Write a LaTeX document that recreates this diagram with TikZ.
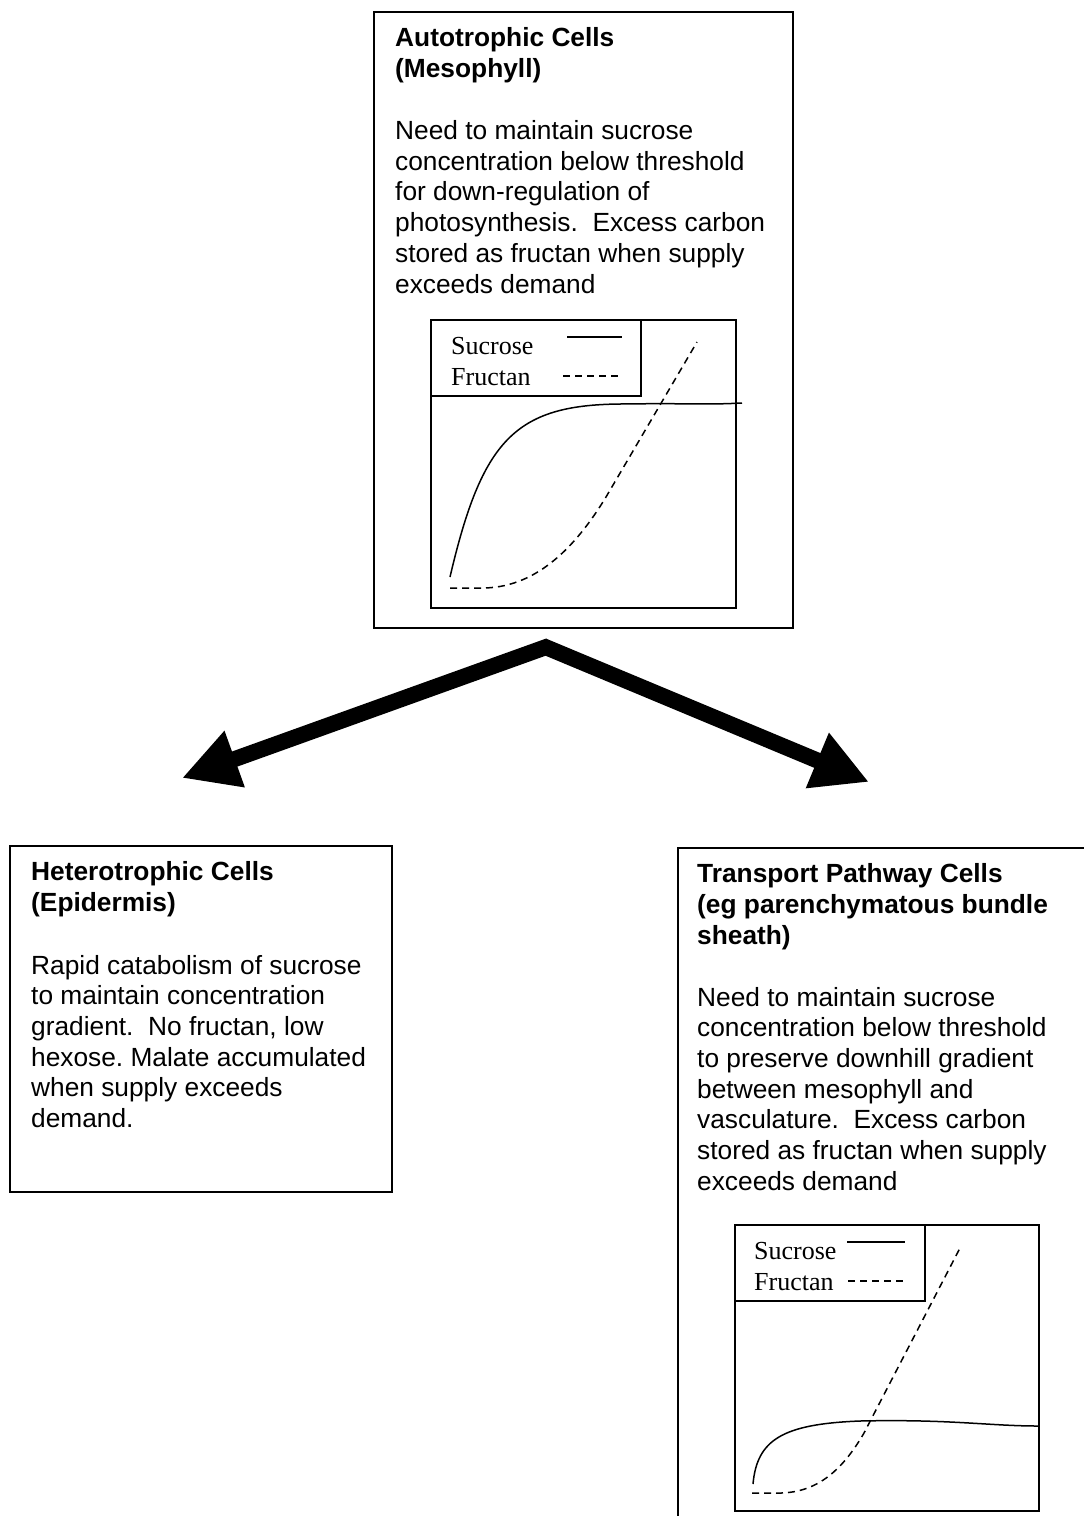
\documentclass[tikz,border=0pt]{standalone}
\usepackage{fontspec}
\setmainfont{Liberation Sans}
\newfontfamily\legendfont{Liberation Serif}
\usetikzlibrary{arrows.meta}
\frenchspacing
\begin{document}
\begin{tikzpicture}[x=1pt,y=-1pt,
  box/.style={draw, line width=1.6pt, inner sep=0pt, anchor=north west},
  body/.style={anchor=base west, inner sep=0pt, font=\fontsize{26.3}{30.7}\selectfont},
  ttl/.style={anchor=base west, inner sep=0pt, font=\fontsize{26.3}{30.7}\selectfont\bfseries},
  leg/.style={anchor=base west, inner sep=0pt, font=\fontsize{26}{30}\legendfont},
  frame/.style={draw, line width=1.5pt, inner sep=0pt, anchor=north west},
  curve/.style={line width=1.5pt},
  dcurve/.style={line width=1.5pt, dash pattern=on 7pt off 5pt},
  bigarrow/.style={line width=16pt, line cap=butt,
    -{Triangle[length=56pt,width=56pt]}}
]
\useasboundingbox (0,0) rectangle (1084,1516);

% ---------- boxes ----------
\node[box, minimum width=419pt, minimum height=616pt] (auto) at (373,11) {};
\node[box, minimum width=382pt, minimum height=346pt] (hetero) at (9,845) {};
\node[box, minimum width=460pt, minimum height=720pt] (trans) at (677,847) {};

% ---------- top box text ----------
\node[ttl] (autoT1) at (395,46) {Autotrophic Cells};
\node[ttl] (autoT2) at (395,77) {(Mesophyll)};
\foreach \t [count=\i from 0] in {{Need to maintain sucrose},
  {concentration below threshold},{for down-regulation of},
  {photosynthesis.~ Excess carbon},{stored as fructan when supply},
  {exceeds demand}}
  \node[body] (autoB\i) at ({395},{139.5+30.7*\i}) {\t};

% ---------- top graph ----------
\node[frame, minimum width=305pt, minimum height=288pt] (g1) at (430,319) {};
\node[frame, minimum width=210pt, minimum height=76pt] (g1leg) at (430,319) {};
\node[leg] (g1s) at (451,354) {Sucrose};
\node[leg] (g1f) at (451,385) {Fructan};
\draw[curve] (567,337) -- (622,337);
\draw[dcurve] (563,376) -- (622,376);
\draw[curve] (450,577) .. controls (482,440) and (515,405) .. (620,404)
  .. controls (690,403) and (705,405) .. (742,403);
\draw[dcurve] (450,588) -- (480,588) .. controls (535,589) and (575,548) .. (606,497)
  -- (697,342);

% ---------- arrows ----------
\coordinate (apexL) at (549,646);
\coordinate (apexR) at (543,646);
\coordinate (ltip) at (182,778);
\coordinate (rtip) at (869,782);
\draw[bigarrow] (apexL) -- (ltip);
\draw[bigarrow] (apexR) -- (rtip);

% ---------- left box text ----------
\node[ttl] (hetT1) at (31,880) {Heterotrophic Cells};
\node[ttl] (hetT2) at (31,911) {(Epidermis)};
\foreach \t [count=\i from 0] in {{Rapid catabolism of sucrose},
  {to maintain concentration},{gradient.~ No fructan, low},
  {hexose. Malate accumulated},{when supply exceeds},{demand.}}
  \node[body] (hetB\i) at ({31},{974+30.7*\i}) {\t};

% ---------- right box text ----------
\node[ttl] (trT1) at (697,882) {Transport Pathway Cells};
\node[ttl] (trT2) at (697,913) {(eg parenchymatous bundle};
\node[ttl] (trT3) at (697,944) {sheath)};
\foreach \t [count=\i from 0] in {{Need to maintain sucrose},
  {concentration below threshold},{to preserve downhill gradient},
  {between mesophyll and},{vasculature.~ Excess carbon},
  {stored as fructan when supply},{exceeds demand}}
  \node[body] (trB\i) at ({697},{1006+30.7*\i}) {\t};

% ---------- right graph ----------
\node[frame, minimum width=304pt, minimum height=286pt] (g2) at (734,1224) {};
\node[frame, minimum width=190pt, minimum height=76pt] (g2leg) at (734,1224) {};
\node[leg] (g2s) at (754,1259) {Sucrose};
\node[leg] (g2f) at (754,1290) {Fructan};
\draw[curve] (847,1242) -- (905,1242);
\draw[dcurve] (848,1281) -- (905,1281);
\draw[curve] (753,1484) .. controls (757,1440) and (782,1424) .. (860,1421)
  .. controls (950,1419) and (990,1426) .. (1038,1426);
\draw[dcurve] (752,1493) -- (775,1493) .. controls (810,1494) and (838,1478) .. (864,1433)
  -- (960,1248);
\end{tikzpicture}
\end{document}
